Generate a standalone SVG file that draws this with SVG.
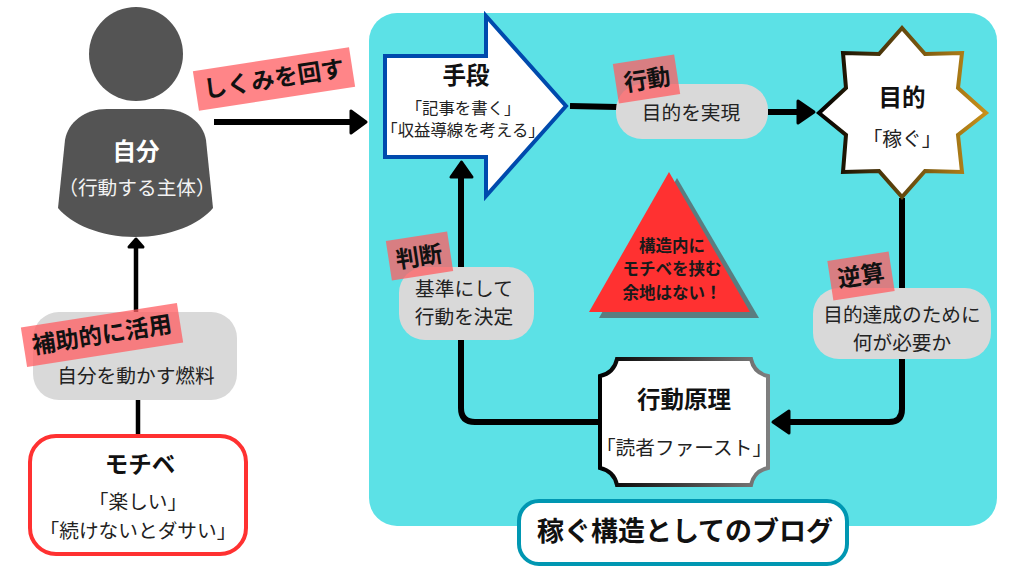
<svg xmlns="http://www.w3.org/2000/svg" width="1024" height="576" viewBox="0 0 1024 576">
<style>
text{font-family:"Noto Sans CJK JP","Noto Sans",sans-serif;text-anchor:middle;fill:#222}
.t{font-weight:700;font-size:23.5px;fill:#111}
.b{font-size:19.7px}
.s{font-size:16.4px}
.w{font-size:16.5px;font-weight:700;fill:#1a1a1a}
.tag{fill:#ff5e62;fill-opacity:.76}
.l{font-weight:700;fill:#111;font-size:23.5px}
.c{fill:none;stroke:#000;stroke-width:6}
.g{fill:#d9d9d9}
.h{fill:#000;stroke:#000;stroke-width:3;stroke-linejoin:round}
</style>
<defs>
<linearGradient id="gold" x1="0" y1="0" x2="1" y2="0"><stop offset="0" stop-color="#000"/><stop offset="1" stop-color="#c8901a"/></linearGradient>
<linearGradient id="grey" x1="0" y1="0" x2="1" y2="0"><stop offset="0" stop-color="#000"/><stop offset="1" stop-color="#7f7f7f"/></linearGradient>
</defs>
<rect id="panel" x="369" y="13" width="628" height="513" rx="28" fill="#5ce1e6"/>
<g id="connectors">
<path class="c" style="stroke-width:4.5" d="M136 246V312"/><path class="h" d="M136 239L143 247H129Z"/>
<path class="c" style="stroke-width:4.5" d="M138 400V434"/>
<path class="c" d="M214 122H352"/><path class="h" d="M366 122L351 111V133Z"/>
<path class="c" d="M570 106L617 107"/>
<path class="c" d="M768 112H800"/><path class="h" d="M814 112L798 101V123Z"/>
<path class="c" d="M902 198V288"/>
<path class="c" d="M902 358V409Q902 422 889 422H788"/><path class="h" d="M773 422L789 411V433Z"/>
<path class="c" d="M600 422H475Q461 422 461 408V176"/><path class="h" d="M461.500 162L451 177H472Z"/>
</g>
<g id="self"><circle cx="136" cy="54" r="47" fill="#545454"/>
<path d="M107 109H163C185 109 203 122 206 140L213 208C200 224 170 237 135 237C100 237 71 224 58 208L65 140C68 122 85 109 107 109Z" fill="#545454"/>
<text x="136" y="160" class="t" style="fill:#fff">自分</text>
<text x="137" y="195" class="b" style="fill:#f2f2f2">（行動する主体）</text></g>
<g id="tag-mawasu"><rect x="195" y="59" width="158" height="40" transform="rotate(-8.800 274 79)" class="tag"/>
<text x="274" y="87" class="l" transform="rotate(-8.800 274 79)">しくみを回す</text></g>
<g id="fuel"><rect x="33" y="312" width="204" height="88" rx="26" class="g"/>
<text x="136" y="383" class="b">自分を動かす燃料</text></g>
<g id="tag-hojo"><rect x="23" y="315" width="158" height="40" transform="rotate(-9 102 335)" class="tag"/>
<text x="102" y="343" class="l" transform="rotate(-9 102 335)">補助的に活用</text></g>
<g id="mochibe"><rect x="30" y="436" width="216" height="118" rx="26" fill="#fff" stroke="#ff3131" stroke-width="4"/>
<text x="140" y="473" class="t">モチベ</text>
<text x="138" y="509" class="b">「楽しい」</text>
<text x="138" y="538" class="b">「続けないとダサい」</text></g>
<g id="means"><path d="M385 56H486V16L566 106L486 196V157H385Z" fill="#fff" stroke="#004aad" stroke-width="4"/>
<text x="466" y="84" class="t">手段</text>
<text x="463" y="114" class="s">「記事を書く」</text>
<text x="463" y="136" class="s">「収益導線を考える」</text></g>
<g id="action"><rect x="616" y="84" width="152" height="55" rx="26" class="g"/>
<text x="691" y="120" class="b">目的を実現</text></g>
<g id="tag-action"><rect x="615.500" y="59" width="62" height="40" transform="rotate(-8.700 646.500 79)" class="tag"/>
<text x="647" y="88" class="l" transform="rotate(-8.700 646.500 79)">行動</text></g>
<g id="goal"><path d="M902 28L879 54L843 53L846 88L819 113L846 135L843 172L879 171L902 197L925 171L962 172L958 135L986 113L958 88L962 53L925 54Z" fill="#fff" stroke="url(#gold)" stroke-width="4"/>
<text x="902" y="106" class="t">目的</text>
<text x="902" y="146" class="b">「稼ぐ」</text></g>
<g id="reverse"><rect x="813" y="288" width="178" height="71" rx="26" class="g"/>
<text x="902" y="322" class="b">目的達成のために</text><text x="902" y="350" class="b">何が必要か</text></g>
<g id="tag-reverse"><rect x="830" y="256" width="62" height="40" transform="rotate(-8.700 861 276)" class="tag"/>
<text x="861" y="284" class="l" transform="rotate(-8.700 861 276)">逆算</text></g>
<g id="warning"><polygon points="677,178 759,318 599,318" fill="#5a7d80"/><polygon points="669,172 750,312 589,312" fill="#ff3131"/>
<text x="672" y="252" class="w">構造内に</text>
<text x="672" y="275" class="w">モチベを挟む</text>
<text x="672" y="299" class="w">余地はない！</text></g>
<g id="judge"><rect x="399" y="267" width="135" height="73" rx="26" class="g"/>
<text x="464" y="296" class="b">基準にして</text><text x="464" y="324" class="b">行動を決定</text></g>
<g id="tag-judge"><rect x="388.500" y="236" width="62" height="40" transform="rotate(-8.700 419.500 256)" class="tag"/>
<text x="419" y="265" class="l" transform="rotate(-8.700 419.500 256)">判断</text></g>
<g id="principle"><path d="M617 359H751Q754 373 768 376V468Q754 471 751 485H617Q614 471 600 468V376Q614 373 617 359Z" fill="#fff" stroke="url(#grey)" stroke-width="4"/>
<text x="684" y="408" class="t">行動原理</text>
<text x="684" y="455" class="b">「読者ファースト」</text></g>
<g id="title"><rect x="519" y="501" width="328" height="63" rx="20" fill="#fff" stroke="#0097b2" stroke-width="4"/>
<text x="685" y="541" class="t" style="font-size:27px">稼ぐ構造としてのブログ</text></g>
</svg>
